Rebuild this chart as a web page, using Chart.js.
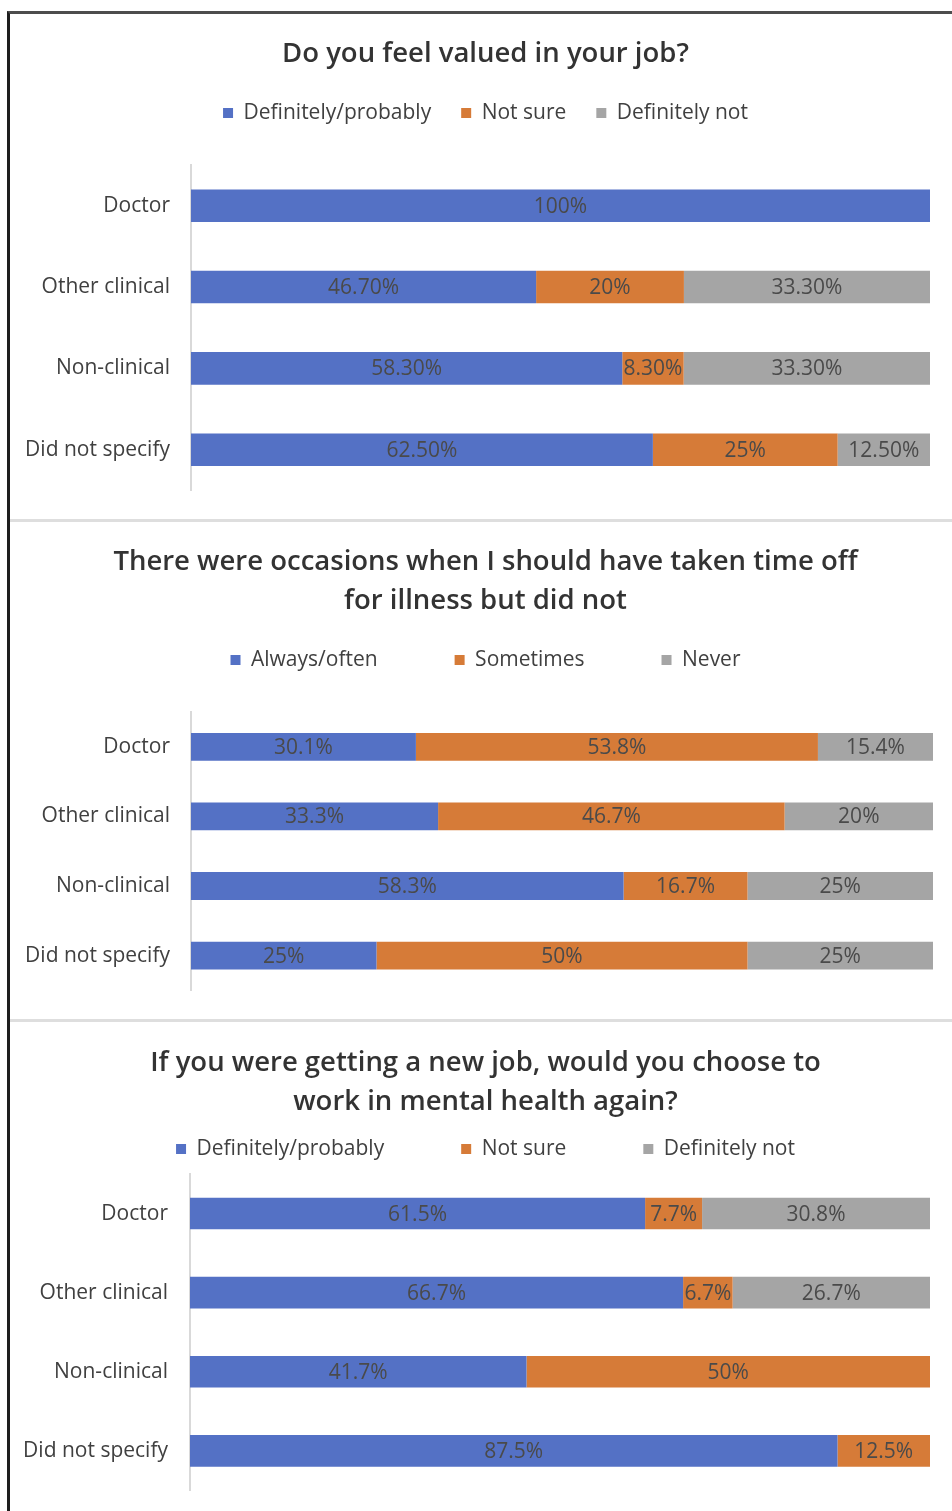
<!DOCTYPE html>
<html>
<head>
<meta charset="utf-8">
<title>Survey charts</title>
<script src="https://cdn.jsdelivr.net/npm/chart.js@4.4.0/dist/chart.umd.min.js"></script>
<style>
  html, body { margin: 0; padding: 0; background: #fff; }
  body { width: 952px; height: 1511px; overflow: hidden; position: relative; }
  .frame { position: absolute; left: 7px; top: 11px; width: 950px; height: 1510px;
           border-left: 3px solid #1e1e1e; border-top: 3px solid #4d4d4d; }
  .sep { position: absolute; left: 10px; width: 942px; height: 3px; background: #dedede; }
  canvas { position: absolute; left: 10px; }
</style>
</head>
<body>
<div class="frame"></div>
<div class="sep" style="top:519px"></div>
<div class="sep" style="top:1019px"></div>
<canvas id="c1" width="942" height="510" style="top:14px"></canvas>
<canvas id="c2" width="942" height="502" style="top:522px"></canvas>
<canvas id="c3" width="942" height="503" style="top:1022px"></canvas>
<script>
var colors = ['#5471C5', '#D67B38', '#A5A5A5'];
var categories = ['Doctor', 'Other clinical', 'Non-clinical', 'Did not specify'];

// Do you feel valued in your job?
var valuedLabels = ['Definitely/probably', 'Not sure', 'Definitely not'];
var valuedYes = [100, 46.7, 58.3, 62.5];
var valuedNotSure = [0, 20, 8.3, 25];
var valuedNo = [0, 33.3, 33.3, 12.5];

// time off for illness
var illLabels = ['Always/often', 'Sometimes', 'Never'];
var illOften = [30.1, 33.3, 58.3, 25];
var illSometimes = [53.8, 46.7, 16.7, 50];
var illNever = [15.4, 20, 25, 25];

// work in mental health again?
var againLabels = ['Definitely/probably', 'Not sure', 'Definitely not'];
var againYes = [61.5, 66.7, 41.7, 87.5];
var againNotSure = [7.7, 6.7, 50, 12.5];
var againNo = [30.8, 26.7, 0, 0];

Chart.defaults.font.family = "'Open Sans'";
Chart.defaults.color = '#404040';

// draws the value inside each bar segment
var barLabels = {
    id: 'barLabels',
    afterDatasetsDraw: function(chart, args, opts) {
        var ctx = chart.ctx;
        ctx.save();
        ctx.font = "21px 'Open Sans'";
        ctx.fillStyle = '#4a4a4a';
        ctx.textAlign = 'center';
        ctx.textBaseline = 'middle';
        chart.data.datasets.forEach(function(ds, i) {
            chart.getDatasetMeta(i).data.forEach(function(bar, j) {
                var v = ds.raw[j];
                if (!v) return;
                var txt = (v % 1 === 0 ? v : v.toFixed(opts.decimals)) + '%';
                var p = bar.getCenterPoint();
                ctx.fillText(txt, p.x, p.y + 1);
            });
        });
        ctx.restore();
    }
};

function InitChart(id, cfg) {
    var series = cfg.series;
    // 100% stacked: each row is scaled to its own total
    var totals = categories.map(function(c, j) {
        return series.reduce(function(s, a) { return s + a[j]; }, 0);
    });
    var titleSize = 27.5, lineH = 39, itemH = 21;
    var pt = cfg.titleY - lineH / 2;
    var legTop = cfg.legendY - cfg.gap - itemH / 2;
    var pb = legTop - (pt + cfg.title.length * lineH);
    var legBottom = cfg.legendY + itemH / 2 + 10;

    new Chart(document.getElementById(id), {
        type: 'bar',
        data: {
            labels: categories,
            datasets: series.map(function(arr, i) {
                return {
                    label: cfg.legend[i],
                    data: arr.map(function(v, j) { return v / totals[j] * 100; }),
                    raw: arr,
                    backgroundColor: colors[i],
                    borderWidth: 0,
                    barPercentage: 0.4,
                    categoryPercentage: 1
                };
            })
        },
        options: {
            indexAxis: 'y',
            responsive: false,
            animation: false,
            layout: { padding: { left: 9, right: 0, top: 0, bottom: 0 } },
            scales: {
                x: {
                    stacked: true, min: 0, max: 100, position: 'top',
                    ticks: { display: false },
                    grid: { display: false, drawTicks: false },
                    border: { display: false },
                    afterFit: function(s) { s.height = cfg.areaTop - legBottom; }
                },
                y: {
                    stacked: true,
                    ticks: { padding: cfg.tickPad, font: { size: 21 }, color: '#404040' },
                    grid: { display: false, drawTicks: false },
                    border: { display: true, color: '#d9d9d9', width: 2 },
                    afterFit: function(s) { s.width = cfg.axisX - 19; }
                },
                yRight: {
                    type: 'category', axis: 'y', position: 'right',
                    ticks: { display: false },
                    grid: { display: false, drawTicks: false },
                    border: { display: false },
                    afterFit: function(s) { s.width = 952 - cfg.rightX; }
                }
            },
            plugins: {
                title: {
                    display: true,
                    text: cfg.title,
                    color: '#333333',
                    font: { size: titleSize, weight: 600, lineHeight: lineH / titleSize },
                    padding: { top: pt, bottom: pb }
                },
                legend: {
                    position: 'top',
                    labels: {
                        boxWidth: 10, boxHeight: 10, padding: cfg.gap,
                        font: { size: 21 }, color: '#404040'
                    }
                },
                tooltip: { enabled: false },
                barLabels: { decimals: cfg.decimals }
            }
        },
        plugins: [barLabels]
    });
}

InitChart('c1', {
    title: ['Do you feel valued in your job?'],
    legend: valuedLabels,
    series: [valuedYes, valuedNotSure, valuedNo],
    decimals: 2, titleY: 40, legendY: 99, gap: 30,
    areaTop: 151, axisX: 191, rightX: 930, tickPad: 21
});
InitChart('c2', {
    title: ['There were occasions when I should have taken time off', 'for illness but did not'],
    legend: illLabels,
    series: [illOften, illSometimes, illNever],
    decimals: 1, titleY: 40, legendY: 138, gap: 77,
    areaTop: 190, axisX: 191, rightX: 933, tickPad: 21
});
InitChart('c3', {
    title: ['If you were getting a new job, would you choose to', 'work in mental health again?'],
    legend: againLabels,
    series: [againYes, againNotSure, againNo],
    decimals: 1, titleY: 41, legendY: 127, gap: 77,
    areaTop: 152, axisX: 190, rightX: 930, tickPad: 22
});
</script>
</body>
</html>
